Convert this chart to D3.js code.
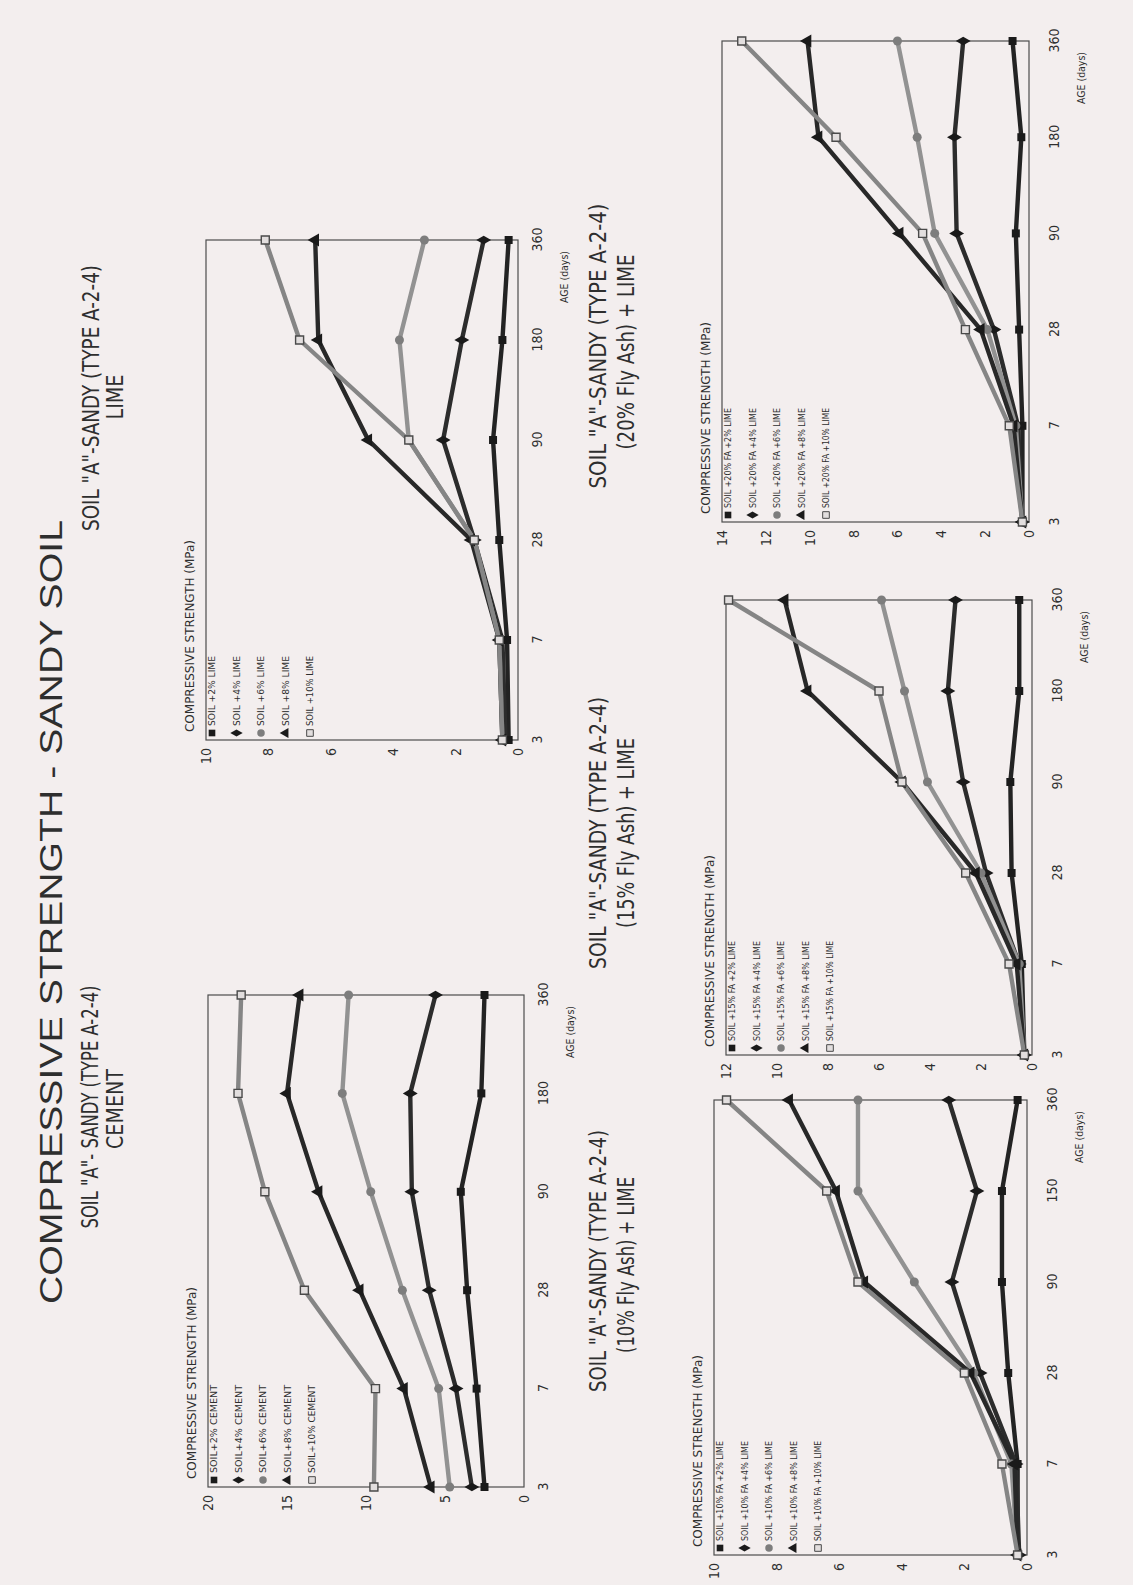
<!DOCTYPE html>
<html>
<head>
<meta charset="utf-8">
<script src="https://cdn.jsdelivr.net/npm/d3@7"></script>
<style>
  body { margin: 0; background: #f3eeee; }
  svg { display: block; }
  text { font-family: "Liberation Sans Narrow", "Arial Narrow", "DejaVu Sans Condensed", sans-serif; fill: #2e2e2e; }
  .title { font-family: "Liberation Sans", Arial, sans-serif; }
</style>
</head>
<body>
<svg id="page" width="1133" height="1585"></svg>
<script>
// age categories (days)
const ages = ['3', '7', '28', '90', '180', '360'];
const ages10 = ['3', '7', '28', '90', '150', '360'];

// cement
const cementNames = ['SOIL+2% CEMENT', 'SOIL+4% CEMENT', 'SOIL+6% CEMENT', 'SOIL+8% CEMENT', 'SOIL+10% CEMENT'];
const cement2 = [2.5, 3.0, 3.6, 4.0, 2.7, 2.5];
const cement4 = [3.3, 4.3, 6.0, 7.1, 7.2, 5.6];
const cement6 = [4.7, 5.4, 7.7, 9.7, 11.5, 11.1];
const cement8 = [5.9, 7.6, 10.4, 13.0, 15.0, 14.2];
const cement10 = [9.5, 9.4, 13.9, 16.4, 18.1, 17.9];
const cementTicks = [0, 5, 10, 15, 20];

// lime
const limeNames = ['SOIL +2% LIME', 'SOIL +4% LIME', 'SOIL +6% LIME', 'SOIL +8% LIME', 'SOIL +10% LIME'];
const lime2 = [0.3, 0.35, 0.6, 0.8, 0.5, 0.3];
const lime4 = [0.4, 0.5, 1.4, 2.4, 1.8, 1.1];
const lime6 = [0.5, 0.6, 1.4, 3.5, 3.8, 3.0];
const lime8 = [0.5, 0.6, 1.5, 4.8, 6.4, 6.5];
const lime10 = [0.5, 0.6, 1.4, 3.5, 7.0, 8.1];
const limeTicks = [0, 2, 4, 6, 8, 10];

// 10% fly ash + lime
const fa10Names = ['SOIL +10% FA +2% LIME', 'SOIL +10% FA +4% LIME', 'SOIL +10% FA +6% LIME', 'SOIL +10% FA +8% LIME', 'SOIL +10% FA +10% LIME'];
const fa10_2 = [0.3, 0.3, 0.6, 0.8, 0.8, 0.3];
const fa10_4 = [0.25, 0.35, 1.5, 2.4, 1.6, 2.5];
const fa10_6 = [0.3, 0.5, 1.7, 3.6, 5.4, 5.4];
const fa10_8 = [0.3, 0.4, 1.8, 5.2, 6.1, 7.6];
const fa10_10 = [0.3, 0.8, 2.0, 5.4, 6.4, 9.6];
const fa10Ticks = [0, 2, 4, 6, 8, 10];

// 15% fly ash + lime
const fa15Names = ['SOIL +15% FA +2% LIME', 'SOIL +15% FA +4% LIME', 'SOIL +15% FA +6% LIME', 'SOIL +15% FA +8% LIME', 'SOIL +15% FA +10% LIME'];
const fa15_2 = [0.3, 0.4, 0.8, 0.85, 0.5, 0.5];
const fa15_4 = [0.3, 0.5, 1.8, 2.7, 3.3, 3.0];
const fa15_6 = [0.3, 0.5, 2.0, 4.1, 5.0, 5.9];
const fa15_8 = [0.3, 0.6, 2.2, 5.1, 8.8, 9.7];
const fa15_10 = [0.3, 0.9, 2.6, 5.1, 6.0, 11.9];
const fa15Ticks = [0, 2, 4, 6, 8, 10, 12];

// 20% fly ash + lime
const fa20Names = ['SOIL +20% FA +2% LIME', 'SOIL +20% FA +4% LIME', 'SOIL +20% FA +6% LIME', 'SOIL +20% FA +8% LIME', 'SOIL +20% FA +10% LIME'];
const fa20_2 = [0.3, 0.3, 0.45, 0.6, 0.35, 0.75];
const fa20_4 = [0.3, 0.5, 1.6, 3.3, 3.4, 3.0];
const fa20_6 = [0.3, 0.6, 1.9, 4.3, 5.1, 6.0];
const fa20_8 = [0.3, 0.7, 2.2, 5.9, 9.6, 10.1];
const fa20_10 = [0.3, 0.9, 2.9, 4.85, 8.8, 13.1];
const fa20Ticks = [0, 2, 4, 6, 8, 10, 12, 14];

// one style per series position (2,4,6,8,10 %)
const seriesStyle = [
  { color: '#232323', symbol: d3.symbolSquare, fill: '#1a1a1a' },
  { color: '#2c2c2c', symbol: d3.symbolDiamond, fill: '#1a1a1a' },
  { color: '#929292', symbol: d3.symbolCircle, fill: '#7d7d7d' },
  { color: '#282828', symbol: d3.symbolTriangle, fill: '#1a1a1a' },
  { color: '#858585', symbol: d3.symbolSquare, fill: '#e2dede', stroke: '#4a4a4a' },
];

// the scanned page is turned: draw in a rotated frame (u along page height, v along width)
const W = 1133, H = 1585;
const svg = d3.select('#page');
svg.append('rect').attr('width', W).attr('height', H).attr('fill', '#f3eeee');
const page = svg.append('g').attr('transform', `translate(0, ${H}) rotate(-90)`);

function addText(txt, u, v, size, len, cls) {
  const t = page.append('text')
    .attr('x', u)
    .attr('y', v)
    .attr('text-anchor', 'middle')
    .attr('font-size', size)
    .text(txt);
  if (len) t.attr('textLength', len).attr('lengthAdjust', 'spacingAndGlyphs');
  if (cls) t.attr('class', cls);
  return t;
}

addText('COMPRESSIVE  STRENGTH - SANDY SOIL', 673, 62, 32, 784, 'title');
addText('SOIL "A"- SANDY (TYPE A-2-4)', 478, 98, 23, 243);
addText('CEMENT', 476, 123, 23, 80);
addText('SOIL "A"-SANDY (TYPE A-2-4)', 1187, 99, 23, 266);
addText('LIME', 1188, 123, 23, 45);
addText('SOIL "A"-SANDY (TYPE A-2-4)', 324, 606, 23, 262);
addText('(10% Fly Ash) + LIME', 320, 634, 23, 176);
addText('SOIL "A"-SANDY (TYPE A-2-4)', 752, 606, 23, 272);
addText('(15% Fly Ash) + LIME', 752, 634, 23, 190);
addText('SOIL "A"-SANDY (TYPE A-2-4)', 1239, 606, 23, 285);
addText('(20% Fly Ash) + LIME', 1233, 634, 23, 195);

function drawChart(cfg) {
  const left = H - cfg.y1, right = H - cfg.y0, top = cfg.x0, bottom = cfg.x1;
  const g = page.append('g');

  const x = d3.scalePoint().domain(cfg.ages).range([left, right]);
  const y = d3.scaleLinear().domain([0, d3.max(cfg.ticks)]).range([bottom, top]);

  g.append('rect')
    .attr('x', left).attr('y', top)
    .attr('width', right - left).attr('height', bottom - top)
    .attr('fill', 'none').attr('stroke', '#4d4d4d').attr('stroke-width', 1.2);

  const xAxis = g.append('g')
    .attr('transform', `translate(0, ${bottom})`)
    .call(d3.axisBottom(x).tickSize(0).tickPadding(cfg.agePad));
  const yAxis = g.append('g')
    .attr('transform', `translate(${left}, 0)`)
    .call(d3.axisLeft(y).tickValues(cfg.ticks).tickSize(0).tickPadding(8).tickFormat(d3.format('d')));
  [xAxis, yAxis].forEach(a => {
    a.select('.domain').remove();
    a.selectAll('text').attr('font-size', 14).attr('fill', '#3a3a3a')
      .attr('font-family', '"Liberation Sans Narrow", "DejaVu Sans Condensed", sans-serif');
  });

  g.append('text')
    .attr('x', left + 8).attr('y', top - 12)
    .attr('font-size', 12).attr('textLength', 192).attr('lengthAdjust', 'spacingAndGlyphs')
    .text('COMPRESSIVE STRENGTH (MPa)');

  g.append('text')
    .attr('x', right - 37).attr('y', bottom + cfg.agePad + 36)
    .attr('text-anchor', 'middle')
    .attr('font-size', 11).attr('textLength', 52).attr('lengthAdjust', 'spacingAndGlyphs')
    .text('AGE (days)');

  const line = d3.line()
    .x((d, i) => x(cfg.ages[i]))
    .y(d => y(d));

  cfg.series.forEach((values, k) => {
    const st = seriesStyle[k];
    g.append('path')
      .datum(values)
      .attr('d', line)
      .attr('fill', 'none')
      .attr('stroke', st.color)
      .attr('stroke-width', 4.4)
      .attr('stroke-linejoin', 'round');
  });
  cfg.series.forEach((values, k) => {
    const st = seriesStyle[k];
    g.selectAll(null)
      .data(values)
      .enter()
      .append('path')
      .attr('transform', (d, i) => `translate(${x(cfg.ages[i])}, ${y(d)})`)
      .attr('d', d3.symbol().type(st.symbol).size(st.symbol === d3.symbolTriangle ? 75 : 64))
      .attr('fill', st.fill)
      .attr('stroke', st.stroke || 'none')
      .attr('stroke-width', 1.4);
  });

  // legend, top-left inside the frame
  const legend = g.append('g');
  cfg.names.forEach((name, k) => {
    const st = seriesStyle[k];
    const v = top + 6 + k * 24.5;
    legend.append('path')
      .attr('transform', `translate(${left + 7}, ${v})`)
      .attr('d', d3.symbol().type(st.symbol).size(44))
      .attr('fill', st.fill)
      .attr('stroke', st.stroke || 'none');
    legend.append('text')
      .attr('x', left + 14).attr('y', v + 3)
      .attr('font-size', 8).attr('fill', '#555')
      .attr('textLength', cfg.legendLen).attr('lengthAdjust', 'spacingAndGlyphs')
      .text(name);
  });
}

drawChart({ x0: 208, x1: 524, y0: 995, y1: 1487, ages: ages, ticks: cementTicks, names: cementNames,
  series: [cement2, cement4, cement6, cement8, cement10], legendLen: 88, agePad: 14 });
drawChart({ x0: 206, x1: 518, y0: 240, y1: 740, ages: ages, ticks: limeTicks, names: limeNames,
  series: [lime2, lime4, lime6, lime8, lime10], legendLen: 70, agePad: 14 });
drawChart({ x0: 714, x1: 1027, y0: 1100, y1: 1555, ages: ages10, ticks: fa10Ticks, names: fa10Names,
  series: [fa10_2, fa10_4, fa10_6, fa10_8, fa10_10], legendLen: 100, agePad: 20 });
drawChart({ x0: 726, x1: 1032, y0: 600, y1: 1055, ages: ages, ticks: fa15Ticks, names: fa15Names,
  series: [fa15_2, fa15_4, fa15_6, fa15_8, fa15_10], legendLen: 100, agePad: 20 });
drawChart({ x0: 722, x1: 1029, y0: 41, y1: 522, ages: ages, ticks: fa20Ticks, names: fa20Names,
  series: [fa20_2, fa20_4, fa20_6, fa20_8, fa20_10], legendLen: 100, agePad: 20 });
</script>
</body>
</html>
